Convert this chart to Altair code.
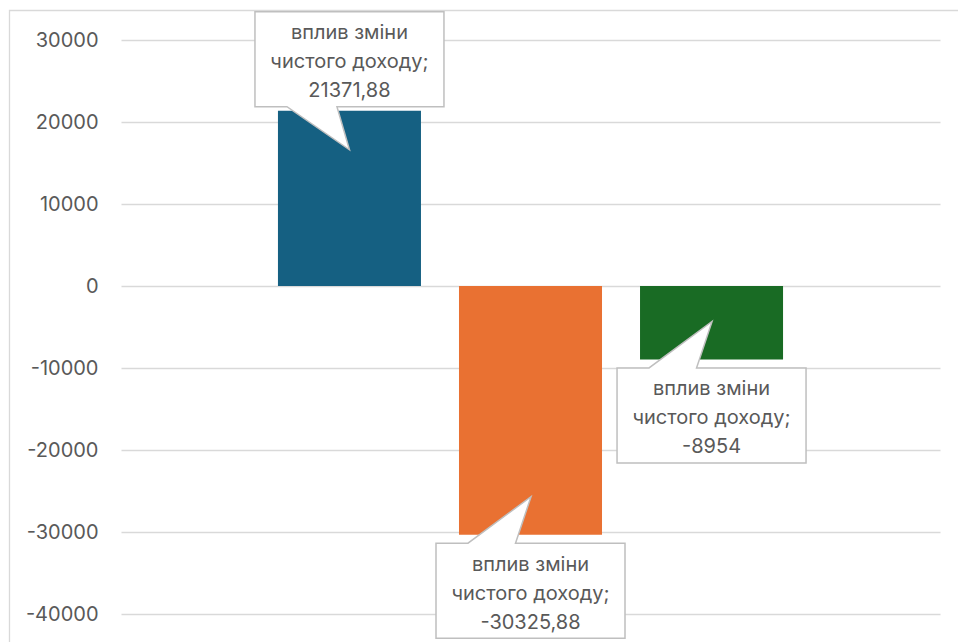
import altair as alt
import pandas as pd

# ---- data ----
series = ["Ряд 1", "Ряд 2", "Ряд 3"]
category = "вплив зміни\nчистого доходу;"
values = [21371.88, -30325.88, -8954]
y_ticks = [-40000, -30000, -20000, -10000, 0, 10000, 20000, 30000]

# ---- styles ----
COLORS = ["#156082", "#E97132", "#196B24"]
FONT = "Inter"
TEXT_COLOR = "#595959"
GRID = "#D9D9D9"


def fmt(v):
    s = ("%.2f" % v).rstrip("0").rstrip(".")
    return s.replace(".", ",")


df = pd.DataFrame({
    "series": series,
    "value": values,
    "label": [category + "\n" + fmt(v) for v in values],
    "sign": ["pos" if v >= 0 else "neg" for v in values],
})

# callout outlines (units of 100 px, relative to the bar end, scale = sqrt(size)/2)
CALLOUT_POS = ("M -0.945 -0.99 L 0.945 -0.99 L 0.945 -0.04 L -0.125 -0.04 "
               "L 0 0.39 L -0.625 -0.04 L -0.945 -0.04 Z")
CALLOUT_NEG = ("M -0.945 0.085 L -0.625 0.085 L 0.005 -0.38 L -0.15 0.085 "
               "L 0.945 0.085 L 0.945 1.035 L -0.945 1.035 Z")

W, H = 819, 574

x_enc = alt.X("series:N", sort=series, axis=None,
              scale=alt.Scale(paddingInner=0.21, paddingOuter=0.867))
y_scale = alt.Scale(domain=[-40000, 30000], nice=False, zero=False)
y_enc = alt.Y("value:Q", scale=y_scale,
              axis=alt.Axis(values=y_ticks, title=None, domain=False, ticks=False,
                            tickSize=0, labelPadding=23, labelFont=FONT,
                            labelFontSize=20, labelColor=TEXT_COLOR,
                            labelExpr="'' + datum.value",
                            grid=True, gridColor=GRID, gridWidth=1.3))

base = alt.Chart(df)

frame = alt.Chart(pd.DataFrame({"f": [0]})).mark_rect(
    fill=None, stroke=GRID, strokeWidth=1.3
).encode(x=alt.value(-111.5), x2=alt.value(850), y=alt.value(-29.5), y2=alt.value(660))

bars = base.mark_bar().encode(
    x=x_enc,
    y=y_enc,
    y2=alt.datum(0),
    color=alt.Color("series:N", sort=series,
                    scale=alt.Scale(domain=series, range=COLORS), legend=None),
)

callout_style = dict(filled=True, fill="white", stroke="#BFBFBF", strokeWidth=1.5,
                     opacity=1, size=40000)

call_pos = base.transform_filter("datum.sign == 'pos'").mark_point(
    shape=CALLOUT_POS, **callout_style).encode(x=x_enc, y=alt.Y("value:Q", scale=y_scale))
call_neg = base.transform_filter("datum.sign == 'neg'").mark_point(
    shape=CALLOUT_NEG, **callout_style).encode(x=x_enc, y=alt.Y("value:Q", scale=y_scale))

text_style = dict(font=FONT, fontSize=20, color=TEXT_COLOR, align="center",
                  baseline="alphabetic", lineBreak="\n", lineHeight=29)

text_pos = base.transform_filter("datum.sign == 'pos'").mark_text(
    dy=-72, **text_style).encode(x=x_enc, y=alt.Y("value:Q", scale=y_scale), text="label:N")
text_neg = base.transform_filter("datum.sign == 'neg'").mark_text(
    dy=36, **text_style).encode(x=x_enc, y=alt.Y("value:Q", scale=y_scale), text="label:N")

chart = alt.layer(frame, bars, call_pos, call_neg, text_pos, text_neg).properties(
    width=W, height=H,
    autosize=alt.AutoSizeParams(type="none"),
    padding={"left": 121, "top": 40, "right": 18, "bottom": 28},
    background="white",
).configure_view(stroke=None)

chart.save("out.html", embed_options={"renderer": "svg", "actions": False})
